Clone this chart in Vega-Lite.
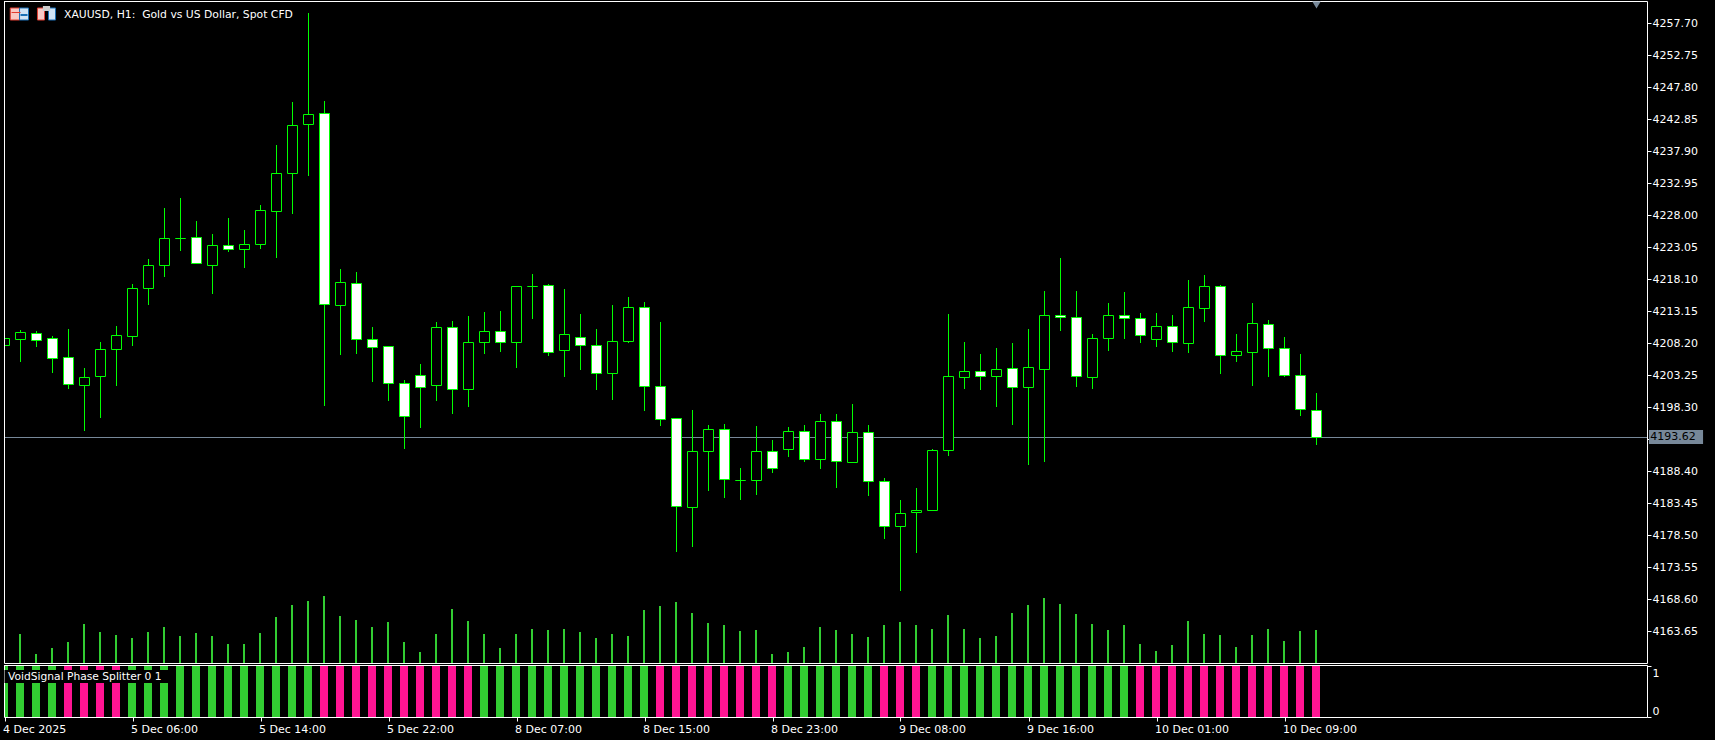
{
"$schema":"https://vega.github.io/schema/vega-lite/v6.json",
"background":"#000000",
"padding":{"left":2,"top":0,"right":14,"bottom":5},
"spacing":2,
"bounds":"flush",
"config":{"view":{"stroke":"#ffffff","strokeWidth":1,"fill":"#000000"},"font":"DejaVu Sans","axis":{"labelOverlap":false}},
"datasets":{"bars":[
{"bar":0,"time":"2025-12-04 22:00","open":4207.86,"high":4209.51,"low":4207.35,"close":4209.00,"volume":9000,"phase":"rise"},
{"bar":1,"time":"2025-12-04 23:00","open":4208.79,"high":4210.29,"low":4205.34,"close":4209.93,"volume":8700,"phase":"rise"},
{"bar":2,"time":"2025-12-05 00:00","open":4209.78,"high":4210.13,"low":4207.66,"close":4208.63,"volume":2700,"phase":"rise"},
{"bar":3,"time":"2025-12-05 01:00","open":4209.00,"high":4209.36,"low":4203.64,"close":4205.85,"volume":4500,"phase":"rise"},
{"bar":4,"time":"2025-12-05 02:00","open":4206.07,"high":4210.44,"low":4201.16,"close":4201.83,"volume":6300,"phase":"fall"},
{"bar":5,"time":"2025-12-05 03:00","open":4201.67,"high":4204.41,"low":4194.66,"close":4202.97,"volume":11700,"phase":"fall"},
{"bar":6,"time":"2025-12-05 04:00","open":4203.06,"high":4208.43,"low":4196.67,"close":4207.30,"volume":9300,"phase":"fall"},
{"bar":7,"time":"2025-12-05 05:00","open":4207.24,"high":4210.91,"low":4201.62,"close":4209.47,"volume":8400,"phase":"fall"},
{"bar":8,"time":"2025-12-05 06:00","open":4209.31,"high":4217.40,"low":4207.81,"close":4216.74,"volume":7500,"phase":"rise"},
{"bar":9,"time":"2025-12-05 07:00","open":4216.68,"high":4221.27,"low":4214.15,"close":4220.30,"volume":9300,"phase":"rise"},
{"bar":10,"time":"2025-12-05 08:00","open":4220.23,"high":4229.16,"low":4218.49,"close":4224.47,"volume":10800,"phase":"rise"},
{"bar":11,"time":"2025-12-05 09:00","open":4224.47,"high":4230.71,"low":4222.51,"close":4224.47,"volume":8100,"phase":"rise"},
{"bar":12,"time":"2025-12-05 10:00","open":4224.63,"high":4227.15,"low":4220.54,"close":4220.54,"volume":9000,"phase":"rise"},
{"bar":13,"time":"2025-12-05 11:00","open":4220.23,"high":4225.14,"low":4215.86,"close":4223.39,"volume":8100,"phase":"rise"},
{"bar":14,"time":"2025-12-05 12:00","open":4223.39,"high":4227.61,"low":4222.35,"close":4222.77,"volume":5700,"phase":"rise"},
{"bar":15,"time":"2025-12-05 13:00","open":4222.77,"high":4225.76,"low":4219.88,"close":4223.55,"volume":5700,"phase":"rise"},
{"bar":16,"time":"2025-12-05 14:00","open":4223.48,"high":4229.62,"low":4222.82,"close":4228.80,"volume":9000,"phase":"rise"},
{"bar":17,"time":"2025-12-05 15:00","open":4228.59,"high":4238.91,"low":4221.43,"close":4234.53,"volume":13800,"phase":"rise"},
{"bar":18,"time":"2025-12-05 16:00","open":4234.47,"high":4245.56,"low":4228.23,"close":4241.95,"volume":17400,"phase":"rise"},
{"bar":19,"time":"2025-12-05 17:00","open":4242.05,"high":4259.32,"low":4234.11,"close":4243.65,"volume":18600,"phase":"rise"},
{"bar":20,"time":"2025-12-05 18:00","open":4243.81,"high":4245.71,"low":4198.53,"close":4214.20,"volume":20100,"phase":"fall"},
{"bar":21,"time":"2025-12-05 19:00","open":4214.05,"high":4219.72,"low":4206.42,"close":4217.67,"volume":14100,"phase":"fall"},
{"bar":22,"time":"2025-12-05 20:00","open":4217.51,"high":4219.26,"low":4206.58,"close":4208.79,"volume":12900,"phase":"fall"},
{"bar":23,"time":"2025-12-05 21:00","open":4208.85,"high":4210.75,"low":4202.25,"close":4207.55,"volume":10800,"phase":"fall"},
{"bar":24,"time":"2025-12-05 22:00","open":4207.77,"high":4207.77,"low":4199.30,"close":4201.98,"volume":12300,"phase":"fall"},
{"bar":25,"time":"2025-12-05 23:00","open":4202.04,"high":4202.55,"low":4191.88,"close":4196.88,"volume":6300,"phase":"fall"},
{"bar":26,"time":"2025-12-08 01:00","open":4203.28,"high":4205.03,"low":4195.13,"close":4201.36,"volume":3300,"phase":"fall"},
{"bar":27,"time":"2025-12-08 02:00","open":4201.67,"high":4211.53,"low":4199.30,"close":4210.71,"volume":8700,"phase":"fall"},
{"bar":28,"time":"2025-12-08 03:00","open":4210.71,"high":4211.68,"low":4197.29,"close":4201.11,"volume":16200,"phase":"fall"},
{"bar":29,"time":"2025-12-08 04:00","open":4201.11,"high":4212.45,"low":4198.38,"close":4208.39,"volume":12600,"phase":"fall"},
{"bar":30,"time":"2025-12-08 05:00","open":4208.39,"high":4213.07,"low":4206.58,"close":4210.09,"volume":8700,"phase":"rise"},
{"bar":31,"time":"2025-12-08 06:00","open":4210.09,"high":4213.23,"low":4206.89,"close":4208.39,"volume":4500,"phase":"rise"},
{"bar":32,"time":"2025-12-08 07:00","open":4208.39,"high":4217.05,"low":4204.41,"close":4217.05,"volume":8700,"phase":"rise"},
{"bar":33,"time":"2025-12-08 08:00","open":4217.05,"high":4218.95,"low":4211.99,"close":4217.05,"volume":10200,"phase":"rise"},
{"bar":34,"time":"2025-12-08 09:00","open":4217.20,"high":4217.40,"low":4206.27,"close":4206.84,"volume":9900,"phase":"rise"},
{"bar":35,"time":"2025-12-08 10:00","open":4207.15,"high":4216.63,"low":4203.02,"close":4209.62,"volume":10200,"phase":"rise"},
{"bar":36,"time":"2025-12-08 11:00","open":4209.16,"high":4212.76,"low":4204.10,"close":4207.92,"volume":9300,"phase":"rise"},
{"bar":37,"time":"2025-12-08 12:00","open":4207.92,"high":4210.44,"low":4201.01,"close":4203.59,"volume":7500,"phase":"rise"},
{"bar":38,"time":"2025-12-08 13:00","open":4203.59,"high":4214.15,"low":4199.46,"close":4208.54,"volume":8700,"phase":"rise"},
{"bar":39,"time":"2025-12-08 14:00","open":4208.54,"high":4215.39,"low":4208.28,"close":4213.80,"volume":8100,"phase":"rise"},
{"bar":40,"time":"2025-12-08 15:00","open":4213.80,"high":4214.62,"low":4197.76,"close":4201.58,"volume":15900,"phase":"rise"},
{"bar":41,"time":"2025-12-08 16:00","open":4201.58,"high":4211.53,"low":4195.44,"close":4196.47,"volume":17100,"phase":"fall"},
{"bar":42,"time":"2025-12-08 17:00","open":4196.63,"high":4196.63,"low":4175.95,"close":4183.02,"volume":18300,"phase":"fall"},
{"bar":43,"time":"2025-12-08 18:00","open":4182.86,"high":4197.91,"low":4176.72,"close":4191.52,"volume":15000,"phase":"fall"},
{"bar":44,"time":"2025-12-08 19:00","open":4191.52,"high":4195.59,"low":4185.38,"close":4194.93,"volume":12000,"phase":"fall"},
{"bar":45,"time":"2025-12-08 20:00","open":4194.93,"high":4195.75,"low":4184.30,"close":4187.19,"volume":11400,"phase":"fall"},
{"bar":46,"time":"2025-12-08 21:00","open":4187.04,"high":4188.94,"low":4183.99,"close":4187.04,"volume":9600,"phase":"fall"},
{"bar":47,"time":"2025-12-08 22:00","open":4187.04,"high":4195.44,"low":4184.77,"close":4191.52,"volume":9900,"phase":"fall"},
{"bar":48,"time":"2025-12-08 23:00","open":4191.52,"high":4193.27,"low":4188.17,"close":4188.89,"volume":2700,"phase":"fall"},
{"bar":49,"time":"2025-12-09 01:00","open":4191.84,"high":4195.28,"low":4190.64,"close":4194.62,"volume":3300,"phase":"rise"},
{"bar":50,"time":"2025-12-09 02:00","open":4194.62,"high":4195.59,"low":4189.87,"close":4190.29,"volume":4800,"phase":"rise"},
{"bar":51,"time":"2025-12-09 03:00","open":4190.29,"high":4197.29,"low":4188.79,"close":4196.17,"volume":10800,"phase":"rise"},
{"bar":52,"time":"2025-12-09 04:00","open":4196.17,"high":4197.29,"low":4185.85,"close":4189.98,"volume":9900,"phase":"rise"},
{"bar":53,"time":"2025-12-09 05:00","open":4189.82,"high":4198.84,"low":4189.82,"close":4194.46,"volume":8700,"phase":"rise"},
{"bar":54,"time":"2025-12-09 06:00","open":4194.46,"high":4195.59,"low":4184.61,"close":4186.88,"volume":7800,"phase":"rise"},
{"bar":55,"time":"2025-12-09 07:00","open":4186.88,"high":4187.39,"low":4177.96,"close":4179.92,"volume":11400,"phase":"fall"},
{"bar":56,"time":"2025-12-09 08:00","open":4179.92,"high":4183.99,"low":4169.91,"close":4181.93,"volume":12300,"phase":"fall"},
{"bar":57,"time":"2025-12-09 09:00","open":4182.03,"high":4185.85,"low":4175.79,"close":4182.40,"volume":11400,"phase":"fall"},
{"bar":58,"time":"2025-12-09 10:00","open":4182.40,"high":4191.88,"low":4182.40,"close":4191.68,"volume":10200,"phase":"rise"},
{"bar":59,"time":"2025-12-09 11:00","open":4191.68,"high":4212.76,"low":4190.80,"close":4203.12,"volume":14400,"phase":"rise"},
{"bar":60,"time":"2025-12-09 12:00","open":4202.97,"high":4208.43,"low":4201.16,"close":4203.90,"volume":10200,"phase":"rise"},
{"bar":61,"time":"2025-12-09 13:00","open":4203.90,"high":4206.58,"low":4201.01,"close":4203.12,"volume":7500,"phase":"rise"},
{"bar":62,"time":"2025-12-09 14:00","open":4203.12,"high":4207.50,"low":4198.38,"close":4204.21,"volume":8100,"phase":"rise"},
{"bar":63,"time":"2025-12-09 15:00","open":4204.36,"high":4208.28,"low":4195.59,"close":4201.42,"volume":15000,"phase":"rise"},
{"bar":64,"time":"2025-12-09 16:00","open":4201.42,"high":4210.44,"low":4189.41,"close":4204.52,"volume":17400,"phase":"rise"},
{"bar":65,"time":"2025-12-09 17:00","open":4204.21,"high":4216.32,"low":4189.87,"close":4212.56,"volume":19500,"phase":"rise"},
{"bar":66,"time":"2025-12-09 18:00","open":4212.56,"high":4221.43,"low":4210.13,"close":4212.25,"volume":17700,"phase":"rise"},
{"bar":67,"time":"2025-12-09 19:00","open":4212.25,"high":4216.32,"low":4201.47,"close":4203.12,"volume":14700,"phase":"rise"},
{"bar":68,"time":"2025-12-09 20:00","open":4202.97,"high":4209.67,"low":4201.16,"close":4209.00,"volume":11700,"phase":"rise"},
{"bar":69,"time":"2025-12-09 21:00","open":4209.00,"high":4214.46,"low":4207.04,"close":4212.56,"volume":9900,"phase":"rise"},
{"bar":70,"time":"2025-12-09 22:00","open":4212.56,"high":4216.17,"low":4208.90,"close":4212.10,"volume":11400,"phase":"rise"},
{"bar":71,"time":"2025-12-09 23:00","open":4212.10,"high":4212.92,"low":4208.28,"close":4209.47,"volume":5700,"phase":"fall"},
{"bar":72,"time":"2025-12-10 01:00","open":4208.85,"high":4212.92,"low":4207.66,"close":4210.86,"volume":3600,"phase":"fall"},
{"bar":73,"time":"2025-12-10 02:00","open":4210.86,"high":4212.61,"low":4206.89,"close":4208.39,"volume":5400,"phase":"fall"},
{"bar":74,"time":"2025-12-10 03:00","open":4208.23,"high":4218.02,"low":4206.73,"close":4213.80,"volume":12600,"phase":"fall"},
{"bar":75,"time":"2025-12-10 04:00","open":4213.65,"high":4218.80,"low":4211.53,"close":4217.05,"volume":8700,"phase":"fall"},
{"bar":76,"time":"2025-12-10 05:00","open":4217.05,"high":4217.25,"low":4203.48,"close":4206.37,"volume":8400,"phase":"fall"},
{"bar":77,"time":"2025-12-10 06:00","open":4206.37,"high":4209.67,"low":4205.34,"close":4206.99,"volume":4800,"phase":"fall"},
{"bar":78,"time":"2025-12-10 07:00","open":4206.84,"high":4214.46,"low":4201.62,"close":4211.32,"volume":8400,"phase":"fall"},
{"bar":79,"time":"2025-12-10 08:00","open":4211.17,"high":4211.83,"low":4203.02,"close":4207.46,"volume":10200,"phase":"fall"},
{"bar":80,"time":"2025-12-10 09:00","open":4207.46,"high":4209.20,"low":4203.02,"close":4203.28,"volume":6600,"phase":"fall"},
{"bar":81,"time":"2025-12-10 10:00","open":4203.28,"high":4206.58,"low":4196.98,"close":4198.02,"volume":9600,"phase":"fall"},
{"bar":82,"time":"2025-12-10 11:00","open":4197.87,"high":4200.54,"low":4192.50,"close":4193.62,"volume":9900,"phase":"fall"}
]},
"data":{"name":"bars"},
"vconcat":[
{"width":1643,"height":662,
 "layer":[
  {"mark":{"type":"bar","width":2,"color":"#32CD32","xOffset":-0.5,"clip":true},
   "encoding":{"x":{"field":"bar","type":"quantitative","scale":{"domain":[-0.03125,102.65625],"nice":false,"zero":false,"padding":0},"axis":null},
    "y":{"field":"volume","type":"quantitative","stack":null,"scale":{"domain":[0,198600],"nice":false,"round":true},"axis":null}}},
  {"layer":[
   {"mark":{"type":"rule","color":"#778899","strokeWidth":1,"yOffset":0.5},
    "data":{"values":[{"last":4193.62}]},
    "encoding":{"x":{"value":0},"x2":{"value":1643},"y":{"field":"last","type":"quantitative","scale":{"domain":[4158.73,4261.13],"nice":false,"zero":false,"round":true},
      "axis":{"orient":"right","tickCount":40,"values":[4257.70,4252.75,4247.80,4242.85,4237.90,4232.95,4228.00,4223.05,4218.10,4213.15,4208.20,4203.25,4198.30,4193.35,4188.40,4183.45,4178.50,4173.55,4168.60,4163.65],
       "format":".2f","labelColor":{"condition":{"test":"datum.value==4193.35","value":"transparent"},"value":"#ffffff"},"title":null,"grid":false,"domain":false,"ticks":true,"tickColor":"#ffffff","tickSize":4,"labelFont":"DejaVu Sans","labelFontSize":11,"labelPadding":1,"labelOverlap":false,"labelSeparation":0}}}},
   {"mark":{"type":"rule","color":"#00FF00","strokeWidth":1,"clip":true},
    "encoding":{"x":{"field":"bar","type":"quantitative"},"y":{"field":"high","type":"quantitative","title":null},"y2":{"field":"low"}}},
   {"mark":{"type":"bar","width":10,"stroke":"#00FF00","strokeWidth":1,"yOffset":0.5,"y2Offset":0.5,"clip":true},
    "encoding":{"x":{"field":"bar","type":"quantitative"},"y":{"field":"open","type":"quantitative","title":null},"y2":{"field":"close"},
     "fill":{"condition":{"test":"datum.close<datum.open","value":"#ffffff"},"value":"#000000"}}},
   {"data":{"values":[{"edge":"left"}]},
    "mark":{"type":"rule","color":"#ffffff","strokeWidth":1,"xOffset":0.5},
    "encoding":{"x":{"datum":-0.03125,"type":"quantitative"}}},
   {"data":{"values":[{"marker":"current"}]},
    "mark":{"type":"point","shape":"triangle-down","filled":true,"size":70,"color":"#778899","opacity":1},
    "encoding":{"x":{"datum":82,"type":"quantitative"},"y":{"datum":4260.55,"type":"quantitative","title":null}}},
   {"data":{"values":[{"label":"4193.62"}]},
    "mark":{"type":"rect","color":"#778899"},
    "encoding":{"x":{"datum":102.78,"type":"quantitative"},"x2":{"datum":106.16},"y":{"datum":4194.81,"type":"quantitative","title":null},"y2":{"datum":4192.68}}},
   {"data":{"values":[{"label":"4193.62"}]},
    "mark":{"type":"text","align":"left","baseline":"middle","color":"#000000","font":"DejaVu Sans","fontSize":11},
    "encoding":{"x":{"datum":102.86,"type":"quantitative"},"y":{"datum":4193.62,"type":"quantitative","title":null},"text":{"field":"label"}}},
   {"data":{"values":[{"label":"XAUUSD, H1:\u00a0 Gold vs US Dollar, Spot CFD"}]},
    "mark":{"type":"text","align":"left","baseline":"middle","color":"#ffffff","font":"DejaVu Sans","fontSize":10.8},
    "encoding":{"x":{"datum":3.72,"type":"quantitative"},"y":{"datum":4259.02,"type":"quantitative","title":null},"text":{"field":"label"}}},
   {"data":{"values":[{"icon":"a"}]},"mark":{"type":"rect","fill":"#f7c9c4","stroke":"#e03c31"},"encoding":{"x":{"datum":0.36,"type":"quantitative"},"x2":{"datum":0.94},"y":{"datum":4260.05,"type":"quantitative","title":null},"y2":{"datum":4258.15}}},
   {"data":{"values":[{"icon":"a"}]},"mark":{"type":"rect","fill":"#cfe3f5","stroke":"#1a6fb5"},"encoding":{"x":{"datum":0.94,"type":"quantitative"},"x2":{"datum":1.5},"y":{"datum":4260.05,"type":"quantitative","title":null},"y2":{"datum":4258.15}}},
   {"data":{"values":[{"icon":"a"}]},"mark":{"type":"rect","color":"#e03c31"},"encoding":{"x":{"datum":0.44,"type":"quantitative"},"x2":{"datum":1.0},"y":{"datum":4259.5,"type":"quantitative","title":null},"y2":{"datum":4259.3}}},
   {"data":{"values":[{"icon":"a"}]},"mark":{"type":"rect","color":"#1a6fb5"},"encoding":{"x":{"datum":1.0,"type":"quantitative"},"x2":{"datum":1.44},"y":{"datum":4259.05,"type":"quantitative","title":null},"y2":{"datum":4258.85}}},
   {"data":{"values":[{"icon":"b"}]},"mark":{"type":"rect","fill":"#f7c9c4","stroke":"#e03c31"},"encoding":{"x":{"datum":2.06,"type":"quantitative"},"x2":{"datum":2.5},"y":{"datum":4260.05,"type":"quantitative","title":null},"y2":{"datum":4258.15}}},
   {"data":{"values":[{"icon":"b"}]},"mark":{"type":"rect","fill":"#cfe3f5","stroke":"#1a6fb5"},"encoding":{"x":{"datum":2.75,"type":"quantitative"},"x2":{"datum":3.19},"y":{"datum":4260.05,"type":"quantitative","title":null},"y2":{"datum":4258.15}}},
   {"data":{"values":[{"icon":"b"}]},"mark":{"type":"rect","color":"#cccccc"},"encoding":{"x":{"datum":2.4,"type":"quantitative"},"x2":{"datum":2.85},"y":{"datum":4260.3,"type":"quantitative","title":null},"y2":{"datum":4259.55}}}
  ]}
 ],
 "resolve":{"scale":{"y":"independent"}}
},
{"width":1643,"height":52,
 "layer":[
  {"mark":{"type":"bar","width":8,"xOffset":-0.5,"clip":true},
   "data":{"name":"bars"},
   "transform":[{"calculate":"1","as":"signal"}],
   "encoding":{"x":{"field":"bar","type":"quantitative","scale":{"domain":[-0.03125,102.65625],"nice":false,"zero":false,"padding":0},
   "axis":{"values":[0,8,16,24,32,40,48,56,64,72,80],"tickCount":20,"labelExpr":"{0:'4 Dec 2025',8:'5 Dec 06:00',16:'5 Dec 14:00',24:'5 Dec 22:00',32:'8 Dec 07:00',40:'8 Dec 15:00',48:'8 Dec 23:00',56:'9 Dec 08:00',64:'9 Dec 16:00',72:'10 Dec 01:00',80:'10 Dec 09:00'}[datum.value]","title":null,"grid":false,"domain":false,"tickColor":"#ffffff","tickSize":4,"labelColor":"#ffffff","labelFont":"DejaVu Sans","labelFontSize":11,"labelAlign":"left","labelBaseline":"top","labelPadding":2.5,"labelOffset":-2,"labelOverlap":false,"labelBound":false,"labelFlush":false}},
    "y":{"field":"signal","type":"quantitative","scale":{"domain":[0,1.02],"nice":false,"round":true},
     "axis":{"values":[0,1],"tickCount":5,"format":"d","title":null,"orient":"right","grid":false,"domain":false,"tickColor":"#ffffff","tickSize":4,"labelColor":"#ffffff","labelFont":"DejaVu Sans","labelFontSize":11,"labelPadding":1,"labelFlush":4,"labelFlushOffset":-1}},
    "color":{"field":"phase","type":"nominal","scale":{"domain":["rise","fall"],"range":["#32CD32","#FF1493"]},"legend":null}}},
  {"data":{"values":[{"edge":"left"}]},
   "mark":{"type":"rule","color":"#ffffff","strokeWidth":1,"xOffset":0.5},
   "encoding":{"x":{"datum":-0.03125,"type":"quantitative"}}},
  {"data":{"values":[{"label":"VoidSignal Phase Splitter 0 1"}]},
   "mark":{"type":"rect","color":"#000000"},
   "encoding":{"x":{"datum":0,"type":"quantitative"},"x2":{"datum":10.22},"y":{"datum":0.928,"type":"quantitative"},"y2":{"datum":0.673}}},
  {"data":{"values":[{"label":"VoidSignal Phase Splitter 0 1"}]},
   "mark":{"type":"text","align":"left","baseline":"middle","color":"#ffffff","font":"DejaVu Sans","fontSize":10.7},
   "encoding":{"x":{"datum":0.22,"type":"quantitative"},"y":{"datum":0.79,"type":"quantitative"},"text":{"field":"label"}}}
 ]
}
]
}
